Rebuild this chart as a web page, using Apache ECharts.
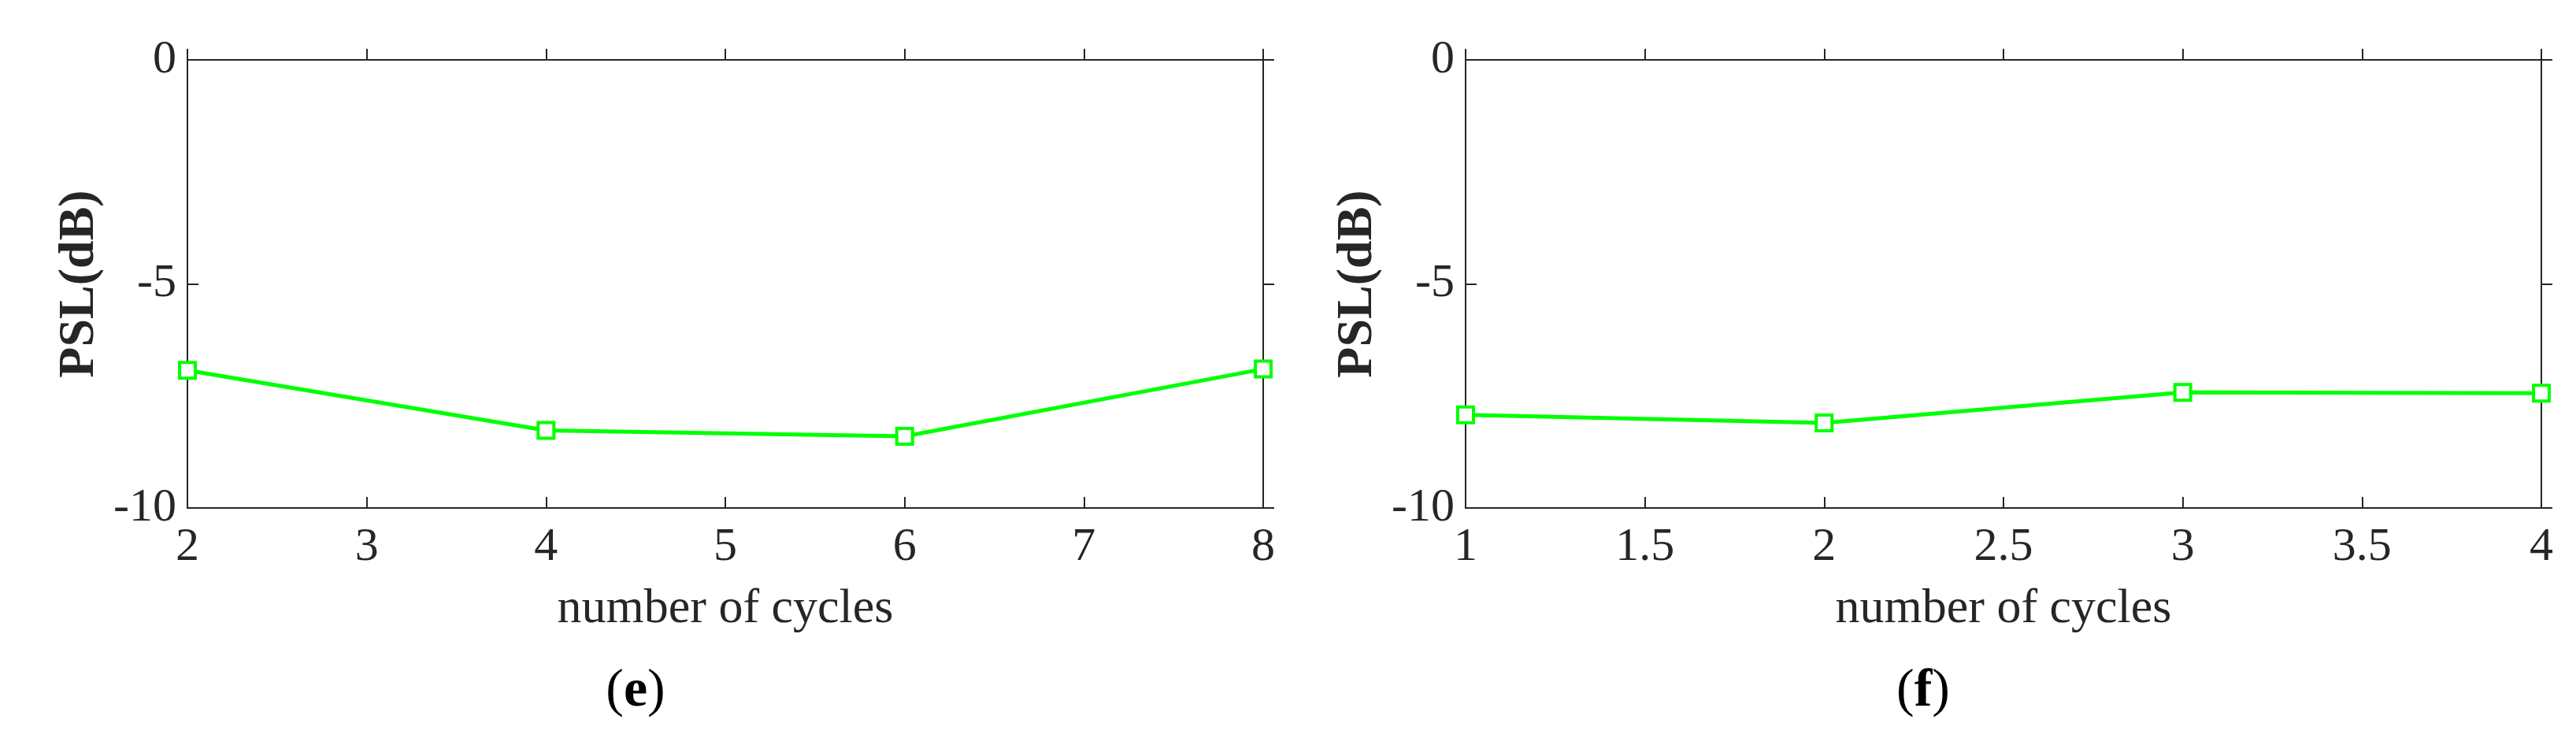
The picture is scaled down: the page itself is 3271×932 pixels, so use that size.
<!DOCTYPE html>
<html><head><meta charset="utf-8">
<script src="https://cdn.jsdelivr.net/npm/echarts@6/dist/echarts.min.js"></script>
<style>html,body{margin:0;padding:0;background:#fff}#c{width:3271px;height:932px}</style>
</head><body><div id="c"></div>
<script>
const xE = [2, 4, 6, 8];
const yE = [-6.93, -8.27, -8.4, -6.9];
const xF = [1, 2, 3, 4];
const yF = [-7.92, -8.1, -7.42, -7.44];
const yTicks = [-10, -5, 0];

const font = 'Liberation Serif';
const C = '#262626';
const grids = [
  {left: 238, top: 76, width: 1366, height: 569},
  {left: 1861, top: 76, width: 1366, height: 569}
];
function xAxes(i, min, max, interval) {
  return [
    {type:'value', gridIndex:i, min, max, interval, position:'bottom',
     name:'number of cycles', nameLocation:'middle', nameGap:98,
     nameTextStyle:{fontFamily:font, fontSize:62, color:C},
     axisLine:{show:true, onZero:false, lineStyle:{color:C, width:2}},
     axisTick:{inside:true, length:14, lineStyle:{color:C, width:2}},
     axisLabel:{fontFamily:font, fontSize:60, color:C, margin:20},
     splitLine:{show:false}},
    {type:'value', gridIndex:i, min, max, interval, position:'top',
     axisLine:{show:true, onZero:false, lineStyle:{color:C, width:2}},
     axisTick:{inside:false, length:14, lineStyle:{color:C, width:2}},
     axisLabel:{show:false}, splitLine:{show:false}}
  ];
}
function yAxes(i) {
  return [
    {type:'value', gridIndex:i, min:-10, max:0, interval:5, position:'left',
     name:'PSL(dB)', nameLocation:'middle', nameGap:105,
     nameTextStyle:{fontFamily:font, fontSize:64, fontWeight:'bold', color:C},
     axisLine:{show:true, onZero:false, lineStyle:{color:C, width:2}},
     axisTick:{inside:true, length:14, lineStyle:{color:C, width:2}},
     axisLabel:{fontFamily:font, fontSize:60, color:C, margin:14,
       formatter:v => yTicks.includes(v) ? String(v) : ''},
     splitLine:{show:false}},
    {type:'value', gridIndex:i, min:-10, max:0, interval:5, position:'right',
     axisLine:{show:true, onZero:false, lineStyle:{color:C, width:2}},
     axisTick:{inside:false, length:14, lineStyle:{color:C, width:2}},
     axisLabel:{show:false}, splitLine:{show:false}}
  ];
}
function ser(xi, yi, xs, ys) {
  return {type:'line', xAxisIndex:xi, yAxisIndex:yi, data:xs.map((x,k)=>[x, ys[k]]),
    symbol:'rect', symbolSize:20, showSymbol:true,
    lineStyle:{color:'#00ff00', width:5},
    itemStyle:{color:'#ffffff', borderColor:'#00ff00', borderWidth:4},
    animation:false, z:5};
}
const chart = echarts.init(document.getElementById('c'));
chart.setOption({
  backgroundColor:'#fff',
  grid: grids,
  xAxis: [...xAxes(0, 2, 8, 1), ...xAxes(1, 1, 4, 0.5)],
  yAxis: [...yAxes(0), ...yAxes(1)],
  series: [ser(0, 0, xE, yE), ser(2, 2, xF, yF)],
  graphic: [
    {type:'text', x: 807, y: 878, style:{text:'({b|e})', fontFamily:font, fontSize:68, fill:'#000',
      align:'center', verticalAlign:'middle',
      rich:{b:{fontWeight:'bold', fontFamily:font, fontSize:68, fill:'#000'}}}},
    {type:'text', x: 2442, y: 878, style:{text:'({b|f})', fontFamily:font, fontSize:68, fill:'#000',
      align:'center', verticalAlign:'middle',
      rich:{b:{fontWeight:'bold', fontFamily:font, fontSize:68, fill:'#000'}}}}
  ]
});
</script></body></html>
